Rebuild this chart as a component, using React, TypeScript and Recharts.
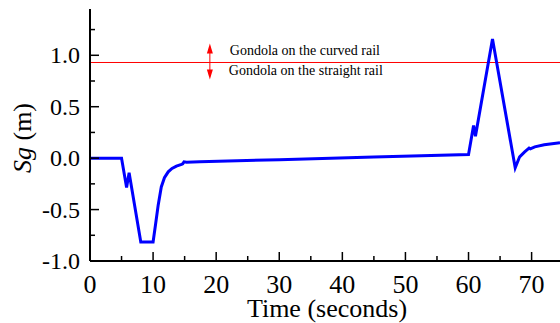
import { Line, LineChart, ReferenceDot, ReferenceLine, XAxis, YAxis } from "recharts";

// Sg time series
const time = [0, 5.0, 5.8, 6.2, 8.05, 10.0, 10.4, 10.8, 11.3, 11.8, 12.4, 13.0, 13.7, 14.5, 14.7, 14.9, 15.3, 17.4, 30, 45, 60.0, 60.8, 61.1, 63.8, 67.4, 68.1, 68.9, 69.6, 69.8, 70.5, 72, 74.5];
const sg = [0, 0, -0.285, -0.143, -0.815, -0.815, -0.64, -0.46, -0.28, -0.19, -0.133, -0.1, -0.078, -0.061, -0.055, -0.036, -0.04, -0.036, -0.015, 0.01, 0.036, 0.318, 0.214, 1.159, -0.094, 0.013, 0.06, 0.097, 0.09, 0.11, 0.13, 0.149];

const xTicks = [0, 5, 10, 15, 20, 25, 30, 35, 40, 45, 50, 55, 60, 65, 70];
const yTicks = [-1, -0.75, -0.5, -0.25, 0, 0.25, 0.5, 0.75, 1, 1.25];
const threshold = 0.93;
const curvedLabel = "Gondola on the curved rail";
const straightLabel = "Gondola on the straight rail";

const data = time.map((t, i) => ({ t, sg: sg[i] }));

const FONT = "'Liberation Serif', 'Times New Roman', serif";

function XTick(props: any) {
  const { x, y, payload } = props;
  const major = payload.value % 10 === 0;
  return (
    <g>
      <line x1={x} y1={y} x2={x} y2={y - (major ? 9 : 5)} stroke="#000" strokeWidth={1.5} />
      {major && (
        <text x={x} y={y + 32} textAnchor="middle" fontSize={26} fontFamily={FONT} fill="#000">
          {payload.value}
        </text>
      )}
    </g>
  );
}

function YTick(props: any) {
  const { x, y, payload } = props;
  const v = payload.value;
  const major = Math.abs(v * 2 - Math.round(v * 2)) < 1e-6;
  return (
    <g>
      <line x1={x} y1={y} x2={x + (major ? 9 : 5)} y2={y} stroke="#000" strokeWidth={1.5} />
      {major && (
        <text x={x - 10} y={y} textAnchor="end" dominantBaseline="central" fontSize={24} fontFamily={FONT} fill="#000">
          {v.toFixed(1)}
        </text>
      )}
    </g>
  );
}

function Annotation(props: any) {
  const { cx, cy } = props;
  return (
    <g>
      <line x1={cx} y1={cy} x2={cx} y2={cy - 12} stroke="#f00" strokeWidth={1} />
      <polygon points={`${cx - 3},${cy - 9} ${cx + 3},${cy - 9} ${cx},${cy - 19}`} fill="#f00" />
      <line x1={cx} y1={cy} x2={cx} y2={cy + 10} stroke="#f00" strokeWidth={1} />
      <polygon points={`${cx - 3},${cy + 7} ${cx + 3},${cy + 7} ${cx},${cy + 17}`} fill="#f00" />
      <text x={cx + 20} y={cy - 7} fontSize={14} fontFamily={FONT} fill="#000">
        {curvedLabel}
      </text>
      <text x={cx + 19} y={cy + 13} fontSize={14} fontFamily={FONT} fill="#000">
        {straightLabel}
      </text>
    </g>
  );
}

export default function App() {
  return (
    <div style={{ width: 560, height: 323, overflow: "hidden", background: "#fff" }}>
      <style>{"body{margin:0}"}</style>
      <LineChart width={560} height={323} data={data} margin={{ top: 9, right: 0, bottom: 0, left: 0 }}>
        <XAxis
          dataKey="t"
          type="number"
          domain={[0, 74.5]}
          ticks={xTicks}
          interval={0}
          tickSize={0}
          tickMargin={0}
          tickLine={false}
          tick={<XTick />}
          axisLine={{ stroke: "#000", strokeWidth: 2 }}
          height={62}
          label={{
            content: () => (
              <text x={327} y={317} textAnchor="middle" fontSize={26} fontFamily={FONT} fill="#000">
                Time (seconds)
              </text>
            ),
          }}
        />
        <XAxis
          xAxisId="top"
          orientation="top"
          dataKey="t"
          type="number"
          domain={[0, 74.5]}
          height={0}
          tick={false}
          tickLine={false}
          axisLine={{ stroke: "#000", strokeWidth: 2 }}
        />
        <YAxis
          type="number"
          domain={[-1, 1.45]}
          ticks={yTicks}
          interval={0}
          width={90}
          tickSize={0}
          tickMargin={0}
          tickLine={false}
          tick={<YTick />}
          axisLine={{ stroke: "#000", strokeWidth: 2 }}
          label={{
            content: () => (
              <text
                x={22}
                y={138}
                transform="rotate(-90 22 138)"
                textAnchor="middle"
                dominantBaseline="central"
                fontSize={26}
                fontFamily={FONT}
                fill="#000"
              >
                <tspan fontStyle="italic">Sg</tspan> (m)
              </text>
            ),
          }}
        />
        <ReferenceLine y={threshold} stroke="#ff0000" strokeWidth={1} />
        <Line
          dataKey="sg"
          type="linear"
          stroke="#0000ff"
          strokeWidth={3}
          dot={false}
          isAnimationActive={false}
        />
        <ReferenceDot x={19} y={threshold} shape={<Annotation />} />
      </LineChart>
    </div>
  );
}
